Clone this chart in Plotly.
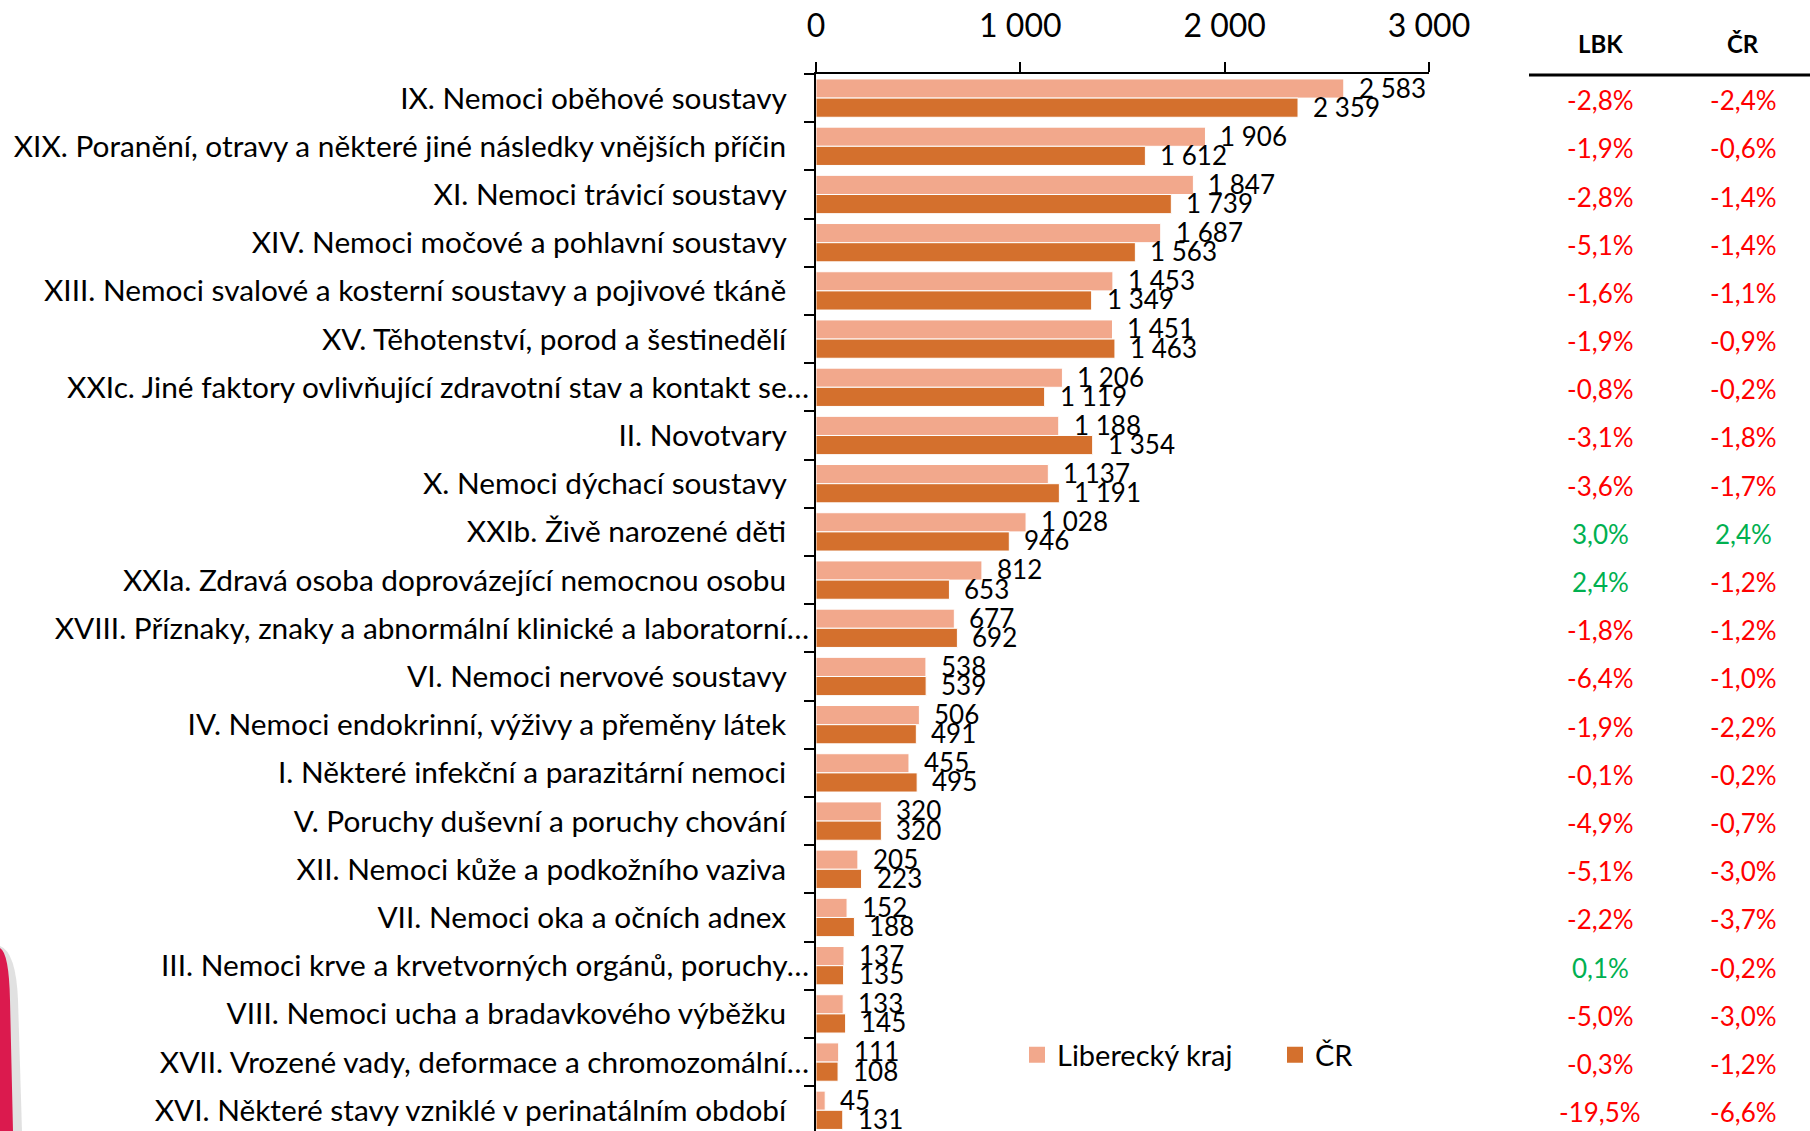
import plotly.graph_objects as go

categories = [
    "IX. Nemoci oběhové soustavy",
    "XIX. Poranění, otravy a některé jiné následky vnějších příčin",
    "XI. Nemoci trávicí soustavy",
    "XIV. Nemoci močové a pohlavní soustavy",
    "XIII. Nemoci svalové a kosterní soustavy a pojivové tkáně",
    "XV. Těhotenství, porod a šestinedělí",
    "XXIc. Jiné faktory ovlivňující zdravotní stav a kontakt se…",
    "II. Novotvary",
    "X. Nemoci dýchací soustavy",
    "XXIb. Živě narozené děti",
    "XXIa. Zdravá osoba doprovázející nemocnou osobu",
    "XVIII. Příznaky, znaky a abnormální klinické a laboratorní…",
    "VI. Nemoci nervové soustavy",
    "IV. Nemoci endokrinní, výživy a přeměny látek",
    "I. Některé infekční a parazitární nemoci",
    "V. Poruchy duševní a poruchy chování",
    "XII. Nemoci kůže a podkožního vaziva",
    "VII. Nemoci oka a očních adnex",
    "III. Nemoci krve a krvetvorných orgánů, poruchy…",
    "VIII. Nemoci ucha a bradavkového výběžku",
    "XVII. Vrozené vady, deformace a chromozomální…",
    "XVI. Některé stavy vzniklé v perinatálním období",
]
lbk_values = [2583, 1906, 1847, 1687, 1453, 1451, 1206, 1188, 1137, 1028, 812,
              677, 538, 506, 455, 320, 205, 152, 137, 133, 111, 45]
cr_values = [2359, 1612, 1739, 1563, 1349, 1463, 1119, 1354, 1191, 946, 653,
             692, 539, 491, 495, 320, 223, 188, 135, 145, 108, 131]
lbk_change = [-2.8, -1.9, -2.8, -5.1, -1.6, -1.9, -0.8, -3.1, -3.6, 3.0, 2.4,
              -1.8, -6.4, -1.9, -0.1, -4.9, -5.1, -2.2, 0.1, -5.0, -0.3, -19.5]
cr_change = [-2.4, -0.6, -1.4, -1.4, -1.1, -0.9, -0.2, -1.8, -1.7, 2.4, -1.2,
             -1.2, -1.0, -2.2, -0.2, -0.7, -3.0, -3.7, -0.2, -3.0, -1.2, -6.6]
series_names = ["Liberecký kraj", "ČR"]
table_headers = ["LBK", "ČR"]
x_ticks = [0, 1000, 2000, 3000]

LIGHT = "#F2A88C"
DARK = "#D4702D"
RED = "#FF0000"
GREEN = "#00B050"
FONT = "Lato"

W, H = 1810, 1131
L, R, T, B = 816, 1429, 74, 1131


def px2x(px):
    return (px - L) / (R - L)


def py2y(py):
    return (B - py) / (B - T)


def fmt_num(v):
    return f"{v:,}".replace(",", " ")


def fmt_pct(v):
    return f"{v:.1f}".replace(".", ",") + "%"


# tick text: non-truncated labels end a bit further left (as in the original)
ticktext = [c if c.endswith("…") else c + "\u00a0\u00a0\u00a0" for c in categories]

fig = go.Figure()
fig.add_trace(go.Bar(y=categories, x=lbk_values, orientation="h", name=series_names[0],
                     marker=dict(color=LIGHT, line=dict(color="white", width=1)),
                     showlegend=False))
fig.add_trace(go.Bar(y=categories, x=cr_values, orientation="h", name=series_names[1],
                     marker=dict(color=DARK, line=dict(color="white", width=1)),
                     showlegend=False))
# legend entries with larger square symbols
for nm, col in zip(series_names, [LIGHT, DARK]):
    fig.add_trace(go.Scatter(x=[None], y=[None], mode="markers", name=nm,
                             marker=dict(symbol="square", size=18, color=col)))

annotations = []
BAR_OFF = 9.6
for c, v1, v2 in zip(categories, lbk_values, cr_values):
    annotations.append(dict(x=v1, y=c, xref="x", yref="y", text=fmt_num(v1), showarrow=False,
                            xanchor="left", yanchor="middle", xshift=13, yshift=BAR_OFF + 1,
                            font=dict(family=FONT, size=26, color="black")))
    annotations.append(dict(x=v2, y=c, xref="x", yref="y", text=fmt_num(v2), showarrow=False,
                            xanchor="left", yanchor="middle", xshift=13, yshift=-BAR_OFF + 1,
                            font=dict(family=FONT, size=26, color="black")))

col_x = [px2x(1600), px2x(1743)]
for hx, htxt in zip(col_x, table_headers):
    annotations.append(dict(x=hx, y=py2y(44), xref="paper", yref="paper", text=f"<b>{htxt}</b>",
                            showarrow=False, xanchor="center", yanchor="middle",
                            font=dict(family=FONT, size=24, color="black")))
for c, a, b in zip(categories, lbk_change, cr_change):
    for hx, v in zip(col_x, [a, b]):
        annotations.append(dict(x=hx, y=c, xref="paper", yref="y", text=fmt_pct(v),
                                showarrow=False, xanchor="center", yanchor="middle", yshift=-2,
                                font=dict(family=FONT, size=26, color=GREEN if v > 0 else RED)))

shapes = [
    dict(type="line", xref="paper", yref="paper", x0=px2x(1529), x1=px2x(1815),
         y0=py2y(75), y1=py2y(75), line=dict(color="black", width=3)),
    # decorative slide edge at bottom left
    dict(type="path", xref="paper", yref="paper", line=dict(width=0), fillcolor="rgba(170,170,170,0.35)",
         path=f"M {px2x(0)},{py2y(946)} Q {px2x(16)},{py2y(952)} {px2x(18)},{py2y(1000)} "
              f"L {px2x(22)},{py2y(1131)} L {px2x(0)},{py2y(1131)} Z"),
    dict(type="path", xref="paper", yref="paper", line=dict(width=0), fillcolor="#DB1A4E",
         path=f"M {px2x(0)},{py2y(948)} Q {px2x(9)},{py2y(953)} {px2x(10)},{py2y(1000)} "
              f"L {px2x(13)},{py2y(1131)} L {px2x(0)},{py2y(1131)} Z"),
]

fig.update_layout(
    width=W, height=H,
    margin=dict(l=L, r=W - R, t=T, b=H - B, pad=0, autoexpand=False),
    paper_bgcolor="white", plot_bgcolor="white",
    font=dict(family=FONT, color="black"),
    separators=", ",
    barmode="group", bargap=0.205, bargroupgap=0,
    annotations=annotations, shapes=shapes,
    legend=dict(orientation="h", x=px2x(1017), y=py2y(1055), xanchor="left", yanchor="middle",
                font=dict(family=FONT, size=29, color="black"), bgcolor="rgba(0,0,0,0)",
                entrywidth=213, entrywidthmode="pixels", itemclick=False),
    xaxis=dict(side="top", range=[0, 3000], tickvals=x_ticks, separatethousands=True,
               tickformat=",d", showgrid=False, zeroline=False, showline=True, linecolor="black",
               linewidth=2, ticks="outside", ticklen=10, tickwidth=2, tickcolor="black",
               automargin=False,
               tickfont=dict(family=FONT, size=32, color="black"), ticklabelstandoff=12),
    yaxis=dict(type="category", categoryorder="array", categoryarray=categories,
               tickvals=categories, ticktext=ticktext, automargin=False,
               range=[21.43, -0.5], showgrid=False, zeroline=False, showline=True,
               linecolor="black", linewidth=2, ticks="outside", tickson="boundaries",
               ticklen=10, tickwidth=2, tickcolor="black", ticklabelstandoff=-1,
               tickfont=dict(family=FONT, size=29.8, color="black")),
)

fig.write_html("out.html", config={"displayModeBar": False},
               post_script="document.body.style.margin='0';")
